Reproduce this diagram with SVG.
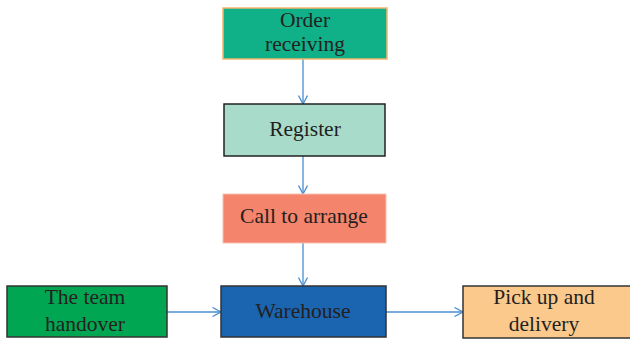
<svg xmlns="http://www.w3.org/2000/svg" width="630" height="340" viewBox="0 0 630 340">
<style>
text{font-family:"Liberation Serif","Times New Roman",serif;font-size:21.5px;fill:#231f20;text-anchor:middle}
.c{stroke:#4a8fd0;stroke-width:1.3;fill:none}
</style>
<defs>
<marker id="a" viewBox="0 0 10 10" refX="9.5" refY="5" markerWidth="10" markerHeight="10" markerUnits="userSpaceOnUse" orient="auto">
<path d="M1,0.5 L9.5,5 L1,9.5" fill="none" stroke="#4a8fd0" stroke-width="1.3"/>
</marker>
</defs>
<rect width="630" height="340" fill="#fff"/>
<g id="connectors">
<line class="c" x1="303" y1="59" x2="303" y2="104" marker-end="url(#a)"/>
<line class="c" x1="303" y1="156" x2="303" y2="194" marker-end="url(#a)"/>
<line class="c" x1="303" y1="243" x2="303" y2="286" marker-end="url(#a)"/>
<line class="c" x1="167" y1="312" x2="221" y2="312" marker-end="url(#a)" stroke-width="1.8"/>
<line class="c" x1="386" y1="312" x2="463" y2="312" marker-end="url(#a)"/>
</g>
<g id="order">
<rect x="223" y="8" width="164" height="51" fill="#10b088" stroke="#f5b56e" stroke-width="1.5"/>
<text x="305" y="27">Order</text>
<text x="305" y="51">receiving</text>
</g>
<g id="register">
<rect x="224" y="104" width="161" height="52" fill="#a8dbca" stroke="#222" stroke-width="1.5"/>
<text x="305" y="136">Register</text>
</g>
<g id="call">
<rect x="223" y="194" width="163" height="49" fill="#f4846b" stroke="#f6c2b4" stroke-width="1"/>
<text x="304" y="223">Call to arrange</text>
</g>
<g id="warehouse">
<rect x="221" y="286" width="165" height="51" fill="#1a64b0" stroke="#333" stroke-width="1.5"/>
<text x="303" y="318">Warehouse</text>
</g>
<g id="team">
<rect x="7" y="286" width="160" height="51" fill="#00a651" stroke="#333" stroke-width="1.5"/>
<text x="85" y="304">The team</text>
<text x="85" y="331">handover</text>
</g>
<g id="pickup">
<rect x="463" y="286" width="170" height="52" fill="#fbc98c" stroke="#333" stroke-width="1.5"/>
<text x="544" y="304">Pick up and</text>
<text x="544" y="331">delivery</text>
</g>
</svg>
